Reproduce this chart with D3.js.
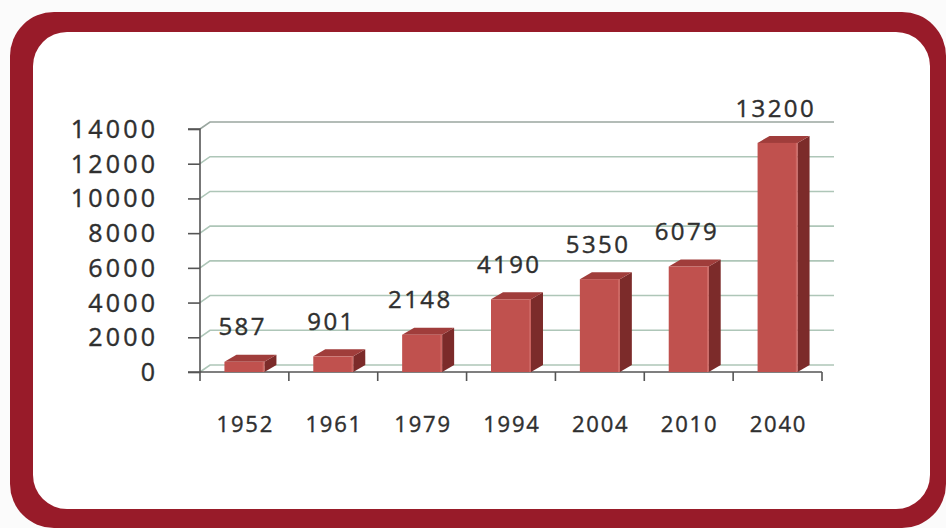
<!DOCTYPE html>
<html>
<head>
<meta charset="utf-8">
<script src="https://cdn.jsdelivr.net/npm/d3@7"></script>
<style>
  html, body { margin: 0; padding: 0; background: #ffffff; }
  svg { display: block; }
</style>
</head>
<body>
<svg id="chart" width="946" height="528"></svg>
<script>
// Chart data
const years = ["1952", "1961", "1979", "1994", "2004", "2010", "2040"];
const values = [587, 901, 2148, 4190, 5350, 6079, 13200];
const yTicks = [0, 2000, 4000, 6000, 8000, 10000, 12000, 14000];

const svg = d3.select("#chart");
const W = 946, H = 528;

// Frame: dark red rounded border around a white panel
svg.append("rect").attr("x", 0).attr("y", 0).attr("width", W).attr("height", H).attr("fill", "#fbfbfb");
svg.append("rect")
  .attr("x", 10).attr("y", 12).attr("width", 936).attr("height", 516)
  .attr("rx", 44).attr("fill", "#981b29");
svg.append("rect")
  .attr("x", 33).attr("y", 32).attr("width", 897).attr("height", 477)
  .attr("rx", 34).attr("fill", "#ffffff");

// Plot geometry
const x0 = 200, x1 = 822, yBase = 372, yTop = 129;
const gridDx = 10, gridDy = -7;     // depth of back wall
const barDx = 12, barDy = -7;       // depth of bars

const x = d3.scaleBand().domain(years).range([x0, x1]).paddingInner(0).paddingOuter(0);
const y = d3.scaleLinear().domain([0, 14000]).range([yBase, yTop]);

const font = "'Open Sans', 'Liberation Sans', sans-serif";
const textColor = "#2f2f2f";

// Gridlines on back wall with diagonal connectors to the axis
const grid = svg.append("g");
yTicks.forEach(t => {
  const yy = y(t);
  grid.append("path")
    .attr("d", `M${x0},${yy} L${x0 + gridDx},${yy + gridDy} L${x1 + barDx},${yy + gridDy}`)
    .attr("fill", "none")
    .attr("stroke", t === 14000 ? "#9aa7a0" : "#aec6b8")
    .attr("stroke-width", 1.6);
});

// Y axis
const yAxis = d3.axisLeft(y).tickValues(yTicks).tickSize(12).tickFormat("");
const yg = svg.append("g").attr("transform", `translate(${x0},0)`).call(yAxis);
yg.selectAll("path, line").attr("stroke", "#555").attr("stroke-width", 1.6);
yg.select(".domain").attr("d", `M-12,${yTop}H0V${yBase}H-12`).attr("fill", "none");

// Shared text styling
function styleText(sel, size, ls) {
  sel.attr("font-family", font)
    .attr("font-size", size)
    .attr("letter-spacing", ls)
    .attr("fill", textColor)
    .attr("stroke", textColor)
    .attr("stroke-width", 0.4)
    .attr("dy", "0.36em");
}

// Y tick labels
const yLs = 3.2;
svg.append("g").selectAll("text").data(yTicks).join("text")
  .attr("x", 155 + yLs)
  .attr("y", d => y(d))
  .attr("text-anchor", "end")
  .call(styleText, 25, yLs)
  .text(d => d);

// X axis with ticks at category boundaries
const xg = svg.append("g");
xg.append("line").attr("x1", x0).attr("x2", x1).attr("y1", yBase).attr("y2", yBase)
  .attr("stroke", "#555").attr("stroke-width", 1.6);
const bounds = years.map(d => x(d)).concat([x1]);
xg.selectAll("line.tick").data(bounds).join("line")
  .attr("class", "tick")
  .attr("x1", d => d).attr("x2", d => d)
  .attr("y1", yBase).attr("y2", yBase + 9)
  .attr("stroke", "#555").attr("stroke-width", 1.6);

// X labels
const xLs = 1.8;
svg.append("g").selectAll("text").data(years).join("text")
  .attr("x", d => x(d) + x.bandwidth() / 2 + xLs / 2)
  .attr("y", 424)
  .attr("text-anchor", "middle")
  .call(styleText, 22, xLs)
  .text(d => d);

// 3D bars
const bw = x.bandwidth() * 0.45;
const bars = svg.append("g").selectAll("g").data(years.map((d, i) => ({ year: d, value: values[i] }))).join("g");
bars.each(function (d) {
  const g = d3.select(this);
  const cx = x(d.year) + x.bandwidth() / 2;
  const left = cx - bw / 2, right = cx + bw / 2;
  const top = y(d.value);
  // side face
  g.append("path")
    .attr("d", `M${right},${yBase} L${right},${top} L${right + barDx},${top + barDy} L${right + barDx},${yBase + barDy} Z`)
    .attr("fill", "#7c2b2a");
  // top face
  g.append("path")
    .attr("d", `M${left},${top} L${left + barDx},${top + barDy} L${right + barDx},${top + barDy} L${right},${top} Z`)
    .attr("fill", "#a03d3b");
  // front face
  g.append("rect")
    .attr("x", left).attr("y", top).attr("width", bw).attr("height", yBase - top)
    .attr("fill", "#c0514e");
  g.append("line")
    .attr("x1", right - 1).attr("x2", right - 1).attr("y1", top).attr("y2", yBase)
    .attr("stroke", "#cf6a66").attr("stroke-width", 1.5);
});

// Value labels above bars
const vLs = 2.4;
svg.append("g").selectAll("text").data(values).join("text")
  .attr("x", (d, i) => x(years[i]) + x.bandwidth() / 2 - 3 + vLs / 2)
  .attr("y", d => y(d) - 35)
  .attr("text-anchor", "middle")
  .call(styleText, 24, vLs)
  .text(d => d);
</script>
</body>
</html>
